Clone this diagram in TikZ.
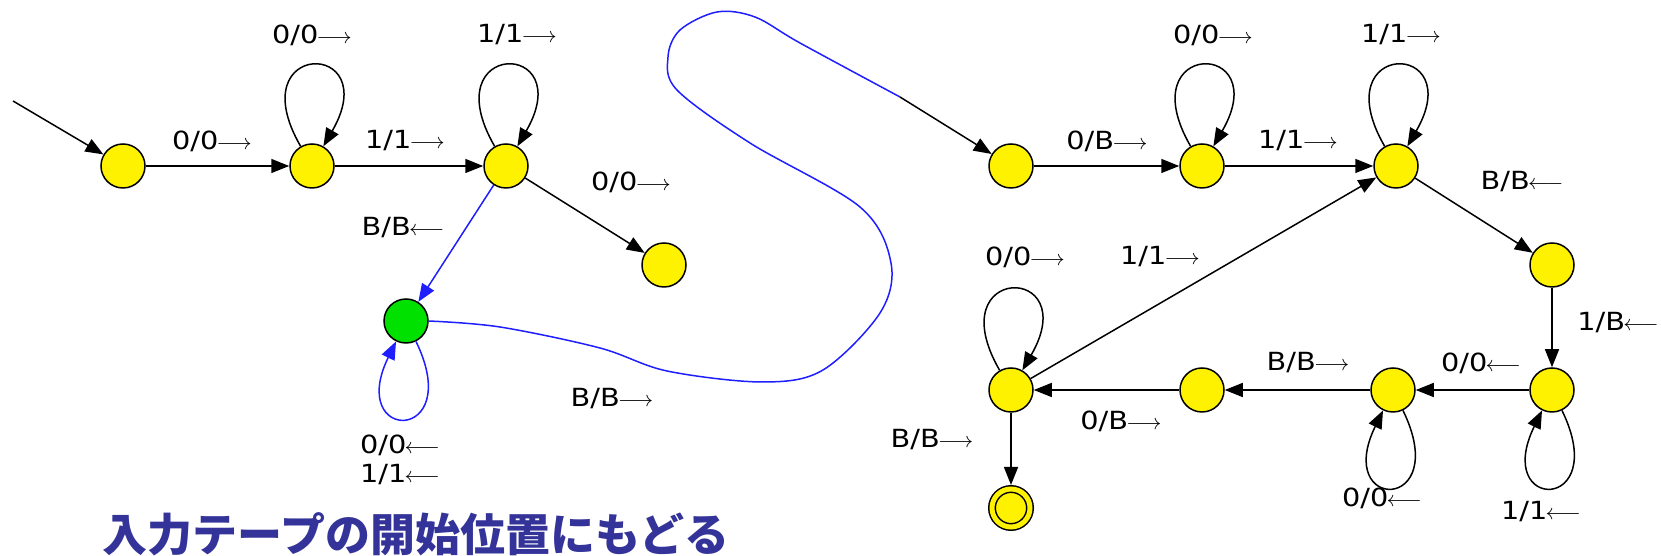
\documentclass[tikz,border=0pt]{standalone}
\usepackage{fontspec}
\usepackage{tikz}
\usetikzlibrary{arrows.meta}
\newfontfamily\lblfont[FakeStretch=1.15]{DejaVu Sans}
\newfontfamily\jpfont{Noto Sans CJK JP}
\definecolor{grn}{RGB}{0,225,0}
\definecolor{tapeblue}{RGB}{30,30,255}
\definecolor{jpblue}{RGB}{51,51,153}
\newcommand{\mvR}{{\fontsize{10.5}{12}\selectfont$\mkern-1.5mu\longrightarrow$}}
\newcommand{\mvL}{{\fontsize{10.5}{12}\selectfont$\mkern-1.5mu\longleftarrow$}}
\tikzset{
  every picture/.style={line width=0.75pt},
  st/.style={draw,circle,fill=yellow,minimum size=22pt,inner sep=0},
  hub/.style={st,fill=grn},
  acc/.style={st,minimum size=19pt,double=yellow,double distance=2.5pt,outer sep=2pt},
  tr/.style={-{Triangle[length=9pt,width=7pt]}},
  tape/.style={tr,tapeblue},
  lbl/.style={font=\lblfont\fontsize{12.5}{14}\selectfont,inner sep=1pt},
  lpa/.style={out=120,in=60,min distance=62pt},
  lpb/.style={out=-64,in=-116,min distance=57pt},
}
\begin{document}
\begin{tikzpicture}[x=50pt,y=50pt]
\useasboundingbox (0,0) rectangle (16.61,5.56);
% first machine: run to the right end
\coordinate (lin) at (0.13,4.55);
\node[st] (q0) at (1.23,3.90) {};
\node[st] (q1) at (3.12,3.90) {};
\node[st] (q2) at (5.06,3.90) {};
\node[st] (q3) at (6.64,2.91) {};
\node[hub] (g) at (4.06,2.35) {};
\draw[tr] (lin) -- (q0);
\draw[tr] (q0) -- (q1);
\draw[tr] (q1) -- (q2);
\draw[tr] (q2) -- (q3);
\draw[tr] (q1) to[lpa] (q1);
\draw[tr] (q2) to[lpa] (q2);
\node[lbl] (l01) at (2.12,4.15) {0/0\mvR};
\node[lbl] (l11) at (3.12,5.21) {0/0\mvR};
\node[lbl] (l12) at (4.05,4.15) {1/1\mvR};
\node[lbl] (l22) at (5.17,5.21) {1/1\mvR};
\node[lbl] (l23) at (6.31,3.74) {0/0\mvR};
% back to the start of the tape
\draw[tape] (q2) -- (g);
\draw[tape] (g) to[lpb] (g);
\node[lbl] (l2g) at (4.03,3.28) {B/B\mvL};
\node[lbl] (lgg0) at (4.00,1.11) {0/0\mvL};
\node[lbl] (lgg1) at (4.00,0.81) {1/1\mvL};
\node[font=\jpfont\bfseries\fontsize{22.5}{26}\selectfont,text=jpblue,inner sep=0] (jp) at (4.16,0.22) {入力テープの開始位置にもどる};
% hand over to the second machine
\coordinate (rin) at (9.00,4.59);
\draw[tapeblue] plot[smooth,tension=.55] coordinates {(g.east) (5.0,2.29) (6.0,2.08) (6.67,1.85) (7.63,1.74) (8.23,1.86) (8.80,2.43) (8.91,2.93) (8.60,3.49) (7.50,4.13) (6.77,4.66) (6.68,4.99) (6.80,5.26) (7.17,5.44) (7.55,5.39) (8.00,5.13) (rin)};
\node[lbl] (lgr) at (6.12,1.57) {B/B\mvR};
% second machine
\node[st] (r0) at (10.11,3.90) {};
\node[st] (r1) at (12.02,3.90) {};
\node[st] (r2) at (13.96,3.90) {};
\node[st] (r3) at (15.52,2.91) {};
\node[st] (r4) at (15.52,1.66) {};
\node[st] (r5) at (13.93,1.66) {};
\node[st] (r6) at (12.02,1.66) {};
\node[st] (r7) at (10.11,1.66) {};
\node[acc] (r8) at (10.11,0.48) {};
\draw[tr] (rin) -- (r0);
\draw[tr] (r0) -- (r1);
\draw[tr] (r1) -- (r2);
\draw[tr] (r2) -- (r3);
\draw[tr] (r3) -- (r4);
\draw[tr] (r4) -- (r5);
\draw[tr] (r5) -- (r6);
\draw[tr] (r6) -- (r7);
\draw[tr] (r7) -- (r2);
\draw[tr] (r7) -- (r8);
\draw[tr] (r1) to[lpa] (r1);
\draw[tr] (r2) to[lpa] (r2);
\draw[tr] (r7) to[lpa] (r7);
\draw[tr] (r4) to[lpb] (r4);
\draw[tr] (r5) to[lpb] (r5);
\node[lbl] (m01) at (11.07,4.15) {0/B\mvR};
\node[lbl] (m11) at (12.13,5.21) {0/0\mvR};
\node[lbl] (m12) at (12.98,4.15) {1/1\mvR};
\node[lbl] (m22) at (14.01,5.21) {1/1\mvR};
\node[lbl] (m23) at (15.22,3.74) {B/B\mvL};
\node[lbl] (m34) at (16.18,2.33) {1/B\mvL};
\node[lbl] (m45) at (14.81,1.93) {0/0\mvL};
\node[lbl] (m44) at (15.41,0.44) {1/1\mvL};
\node[lbl] (m55) at (13.82,0.58) {0/0\mvL};
\node[lbl] (m56) at (13.08,1.93) {B/B\mvR};
\node[lbl] (m67) at (11.21,1.35) {0/B\mvR};
\node[lbl] (m77) at (10.25,2.99) {0/0\mvR};
\node[lbl] (m72) at (11.60,2.99) {1/1\mvR};
\node[lbl] (m78) at (9.32,1.16) {B/B\mvR};
\end{tikzpicture}
\end{document}
